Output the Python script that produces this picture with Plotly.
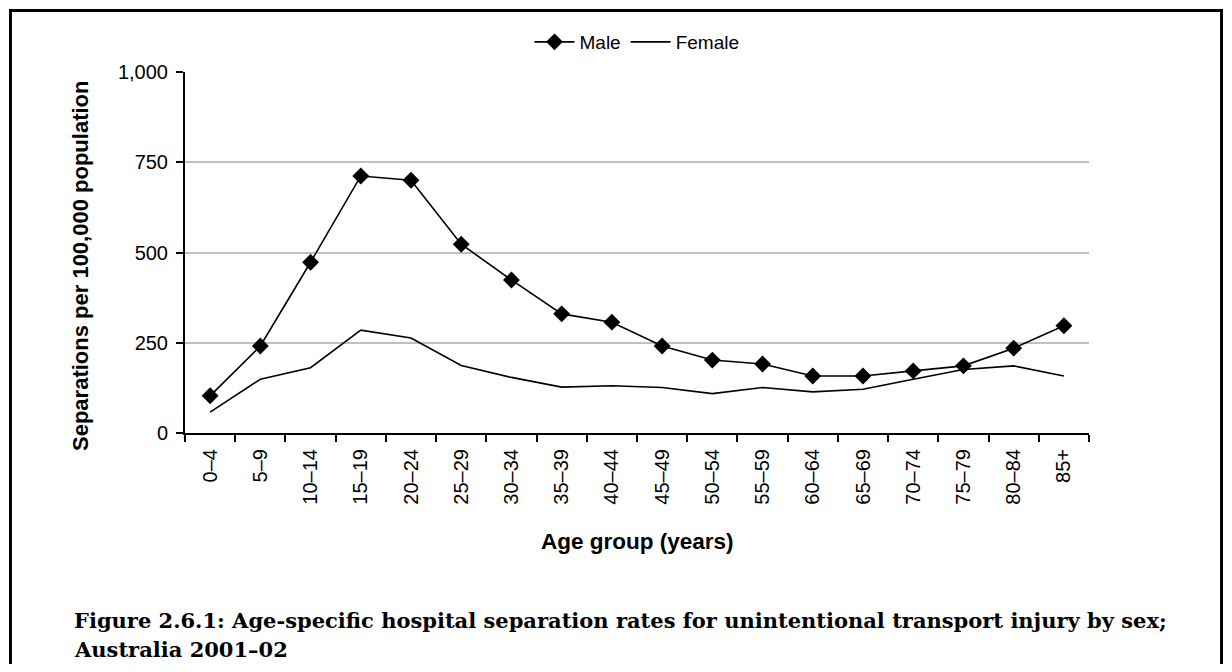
import plotly.graph_objects as go

# Age groups and rates (separations per 100,000 population)
age_groups = ['0–4', '5–9', '10–14', '15–19', '20–24', '25–29', '30–34', '35–39',
              '40–44', '45–49', '50–54', '55–59', '60–64', '65–69', '70–74',
              '75–79', '80–84', '85+']
male = [103, 241, 473, 712, 700, 523, 424, 330, 307, 241, 202, 191, 158, 158,
        172, 186, 235, 297]
female = [58, 149, 181, 285, 263, 187, 154, 127, 131, 126, 109, 126, 114, 121,
          149, 176, 186, 158]
y_ticks = [0, 250, 500, 750, 1000]

# page has an 8px body margin, so keep the figure inside the window (no scrollbars)
OFF = 8
W, H = 1216, 656
L, T = 185 - OFF, 72 - OFF          # plot area on page: 185..1089 x 72..433
R, B = W - (1089 - OFF), H - (433 - OFF)
pw, ph = W - L - R, H - T - B


def px_x(page_px):
    return (page_px - OFF - L) / pw


def px_y(page_py):
    return (H - B - (page_py - OFF)) / ph


sans = 'Arial, Liberation Sans, sans-serif'

fig = go.Figure()

fig.add_trace(go.Scatter(
    x=age_groups, y=male, name='Male', mode='lines+markers',
    line=dict(color='black', width=1.6),
    marker=dict(symbol='diamond', size=13, color='black')
))
fig.add_trace(go.Scatter(
    x=age_groups, y=female, name='Female', mode='lines',
    line=dict(color='black', width=1.6)
))

fig.update_layout(
    width=W, height=H,
    margin=dict(l=L, r=R, t=T, b=B, autoexpand=False),
    paper_bgcolor='white',
    plot_bgcolor='white',
    font=dict(family=sans, size=20, color='black'),
    showlegend=True,
    legend=dict(
        orientation='h', x=0.5, xanchor='center', y=px_y(42), yanchor='middle',
        font=dict(size=19), itemwidth=40, tracegroupgap=0
    ),
    xaxis=dict(
        type='category', range=[-0.5, len(age_groups) - 0.5],
        showline=True, linecolor='black', linewidth=2,
        ticks='outside', ticklen=7, tickwidth=1.5, tickcolor='black',
        tickson='boundaries', tickangle=-90, showgrid=False,
        ticklabelstandoff=6, automargin=False
    ),
    yaxis=dict(
        range=[0, 1000], tickvals=y_ticks, tickformat=',',
        showline=True, linecolor='black', linewidth=2,
        ticks='outside', ticklen=7, tickwidth=1.5, tickcolor='black',
        showgrid=True, gridcolor='#c0c0c0', gridwidth=1.5, zeroline=False,
        ticklabelstandoff=4, automargin=False
    ),
)

# axis titles
fig.add_annotation(
    xref='paper', yref='paper', x=0.5, y=px_y(541), xanchor='center', yanchor='middle',
    text='<b>Age group (years)</b>', showarrow=False, font=dict(size=22.5)
)
fig.add_annotation(
    xref='paper', yref='paper', x=px_x(80), y=px_y(266), xanchor='center', yanchor='middle',
    text='<b>Separations per 100,000 population</b>', textangle=-90,
    showarrow=False, font=dict(size=22)
)

# outer frame (open at the bottom, as in the cropped original)
fig.add_shape(
    type='rect', xref='paper', yref='paper',
    x0=px_x(10.5), x1=px_x(OFF + W - 2.5), y0=px_y(720), y1=px_y(10.5),
    line=dict(color='black', width=3), fillcolor='rgba(0,0,0,0)', layer='above'
)

caption_font = dict(family='DejaVu Serif, serif', size=21, color='black')
fig.add_annotation(
    xref='paper', yref='paper', x=px_x(72), y=px_y(620), xanchor='left', yanchor='middle',
    text='<b>Figure 2.6.1: Age-specific hospital separation rates for unintentional '
         'transport injury by sex;</b>',
    showarrow=False, font=caption_font
)
fig.add_annotation(
    xref='paper', yref='paper', x=px_x(72), y=px_y(649), xanchor='left', yanchor='middle',
    text='<b>Australia 2001–02</b>',
    showarrow=False, font=caption_font
)

fig.write_html('out.html')
